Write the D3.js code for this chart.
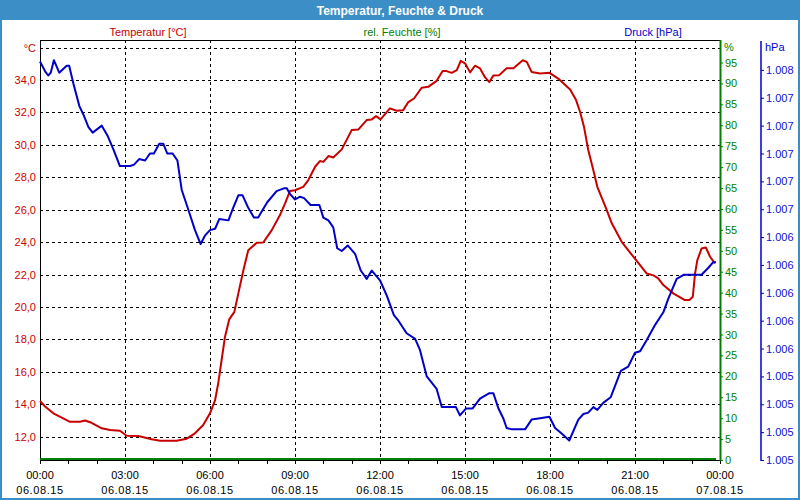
<!DOCTYPE html>
<html><head><meta charset="utf-8">
<script src="https://cdn.jsdelivr.net/npm/d3@7"></script>
<style>
body{margin:0;background:#fff;}
svg{display:block;font-family:"Liberation Sans",Arial,sans-serif;}
</style></head>
<body>
<svg id="chart" width="800" height="500"></svg>
<script>
// ---- data ----
const title = "Temperatur, Feuchte & Druck";
const seriesNames = ["Temperatur [°C]", "rel. Feuchte [%]", "Druck [hPa]"];

const tempHours = [0,0.18,0.47,0.77,1.06,1.41,1.59,1.82,2.18,2.47,2.82,3.06,3.47,3.94,4.24,4.82,5.18,5.47,5.76,6.0,6.18,6.29,6.41,6.53,6.68,6.86,7.0,7.18,7.35,7.65,7.88,8.18,8.47,8.65,8.82,9.0,9.29,9.47,9.71,9.88,10.0,10.18,10.35,10.65,11.0,11.24,11.53,11.71,11.86,12.02,12.35,12.59,12.82,13.0,13.2,13.47,13.7,14.0,14.21,14.35,14.53,14.71,14.85,15.0,15.18,15.35,15.53,15.71,15.86,16.0,16.21,16.47,16.71,17.04,17.18,17.35,17.65,17.98,18.29,18.71,18.92,19.06,19.2,19.35,19.53,19.67,19.98,20.18,20.53,20.94,21.41,21.65,21.82,22.0,22.35,22.76,22.92,23.04,23.12,23.2,23.35,23.5,23.65,23.82];
const tempValues = [14.2,13.86,13.44,13.17,12.92,12.92,13.0,12.86,12.52,12.41,12.37,12.06,12.04,11.84,11.75,11.75,11.88,12.21,12.72,13.44,14.26,15.29,16.73,18.17,19.24,19.7,20.84,22.28,23.5,23.96,23.98,24.74,25.67,26.39,27.15,27.2,27.41,27.83,28.65,29.0,28.95,29.31,29.22,29.72,30.91,30.95,31.53,31.57,31.77,31.57,32.25,32.1,32.14,32.64,32.86,33.52,33.58,33.95,34.55,34.55,34.44,34.61,35.18,35.03,34.47,34.88,34.71,34.16,33.87,34.28,34.3,34.73,34.73,35.22,35.12,34.5,34.4,34.44,34.09,33.42,32.76,32.04,31.11,29.68,28.44,27.41,26.08,25.16,24.02,23.1,22.07,21.95,21.77,21.35,20.84,20.43,20.43,20.63,22.07,22.89,23.61,23.67,23.1,22.69];

const pressHours = [0,0.18,0.29,0.38,0.49,0.68,0.94,1.03,1.18,1.39,1.53,1.71,1.86,2.18,2.38,2.59,2.82,3.18,3.32,3.5,3.71,3.88,4.02,4.21,4.35,4.49,4.68,4.85,5.0,5.23,5.47,5.67,5.82,6.0,6.18,6.33,6.65,6.8,7.0,7.15,7.35,7.55,7.7,8.02,8.35,8.61,8.71,8.82,9.0,9.18,9.32,9.55,9.86,10.0,10.18,10.35,10.49,10.65,10.86,11.12,11.32,11.53,11.71,12.0,12.24,12.49,12.65,12.94,13.24,13.41,13.65,14.0,14.18,14.68,14.82,15.04,15.27,15.53,15.86,16.0,16.18,16.35,16.47,16.65,16.88,17.12,17.35,17.65,17.98,18.18,18.41,18.68,19.0,19.18,19.35,19.53,19.67,19.88,20.14,20.5,20.76,21.0,21.18,21.41,21.71,22.0,22.18,22.47,22.73,22.94,23.35,23.59,23.76,23.86];
const pressValues = [1008.06,1007.99,1007.96,1007.98,1008.07,1007.98,1008.03,1008.03,1007.9,1007.74,1007.68,1007.59,1007.55,1007.6,1007.53,1007.43,1007.31,1007.31,1007.32,1007.36,1007.35,1007.4,1007.4,1007.47,1007.47,1007.4,1007.4,1007.35,1007.14,1007.0,1006.85,1006.75,1006.81,1006.85,1006.86,1006.93,1006.92,1007.0,1007.1,1007.1,1007.01,1006.94,1006.94,1007.05,1007.13,1007.15,1007.15,1007.11,1007.07,1007.09,1007.08,1007.03,1007.03,1006.94,1006.92,1006.87,1006.72,1006.7,1006.74,1006.68,1006.56,1006.5,1006.56,1006.49,1006.38,1006.24,1006.2,1006.11,1006.07,1005.99,1005.8,1005.71,1005.58,1005.58,1005.52,1005.57,1005.57,1005.64,1005.68,1005.68,1005.57,1005.5,1005.43,1005.42,1005.42,1005.42,1005.49,1005.5,1005.51,1005.43,1005.39,1005.34,1005.49,1005.53,1005.54,1005.58,1005.56,1005.61,1005.65,1005.84,1005.87,1005.97,1005.98,1006.06,1006.17,1006.26,1006.36,1006.5,1006.53,1006.53,1006.53,1006.58,1006.62,1006.62];

const humHours = [0, 23.86];
const humValues = [0, 0];

const hourTicks = d3.range(0, 25, 1);
const xLabelHours = [0, 3, 6, 9, 12, 15, 18, 21, 24];
const xLabelTimes = ["00:00","03:00","06:00","09:00","12:00","15:00","18:00","21:00","00:00"];
const xLabelDates = ["06.08.15","06.08.15","06.08.15","06.08.15","06.08.15","06.08.15","06.08.15","06.08.15","07.08.15"];

const tempTicks = [12,14,16,18,20,22,24,26,28,30,32,34,36];
const tempTickLabels = ["12,0","14,0","16,0","18,0","20,0","22,0","24,0","26,0","28,0","30,0","32,0","34,0","°C"];
const humTicks = [0,5,10,15,20,25,30,35,40,45,50,55,60,65,70,75,80,85,90,95];
const pressTicks = [1005.2,1005.4,1005.6,1005.8,1006.0,1006.2,1006.4,1006.6,1006.8,1007.0,1007.2,1007.4,1007.6,1007.8,1008.0];
const pressTickLabels = ["1.005","1.005","1.005","1.005","1.006","1.006","1.006","1.006","1.006","1.007","1.007","1.007","1.007","1.007","1.008"];

// ---- layout ----
const W = 800, H = 500;
const L = 40, R = 720, T = 40, B = 460;
const colT = "#c80000", colH = "#008000", colP = "#0000c8", frameBlue = "#3c8fc6";

const svg = d3.select("#chart");
svg.append("rect").attr("x",0).attr("y",0).attr("width",W).attr("height",H).attr("fill","#fff");
svg.append("rect").attr("x",0).attr("y",0).attr("width",W).attr("height",20).attr("fill",frameBlue);
svg.append("rect").attr("x",1).attr("y",1).attr("width",W-2).attr("height",H-2)
  .attr("fill","none").attr("stroke",frameBlue).attr("stroke-width",2);
svg.append("text").attr("x",W/2).attr("y",14.5).attr("text-anchor","middle")
  .attr("fill","#fff").attr("font-weight","bold").attr("font-size",12).text(title);

const x = d3.scaleLinear().domain([0,24]).range([L,R]);
const yT = d3.scaleLinear().domain([12,34]).range([436.7,80]);
const yH = d3.scaleLinear().domain([0,95]).range([B,62.5]);
const yP = d3.scaleLinear().domain([1005.2,1008.0]).range([B,69.9]);

// series labels
const labelX = [148, 402, 653];
const labelCols = [colT, colH, colP];
seriesNames.forEach((n,i)=>{
  svg.append("text").attr("x",labelX[i]).attr("y",36).attr("text-anchor","middle")
    .attr("font-size",11).attr("fill",labelCols[i]).text(n);
});

// grid
const grid = svg.append("g").attr("stroke","#000").attr("stroke-width",1).attr("stroke-dasharray","3,3").attr("shape-rendering","crispEdges");
tempTicks.forEach(t=>{
  grid.append("line").attr("x1",L).attr("x2",R).attr("y1",Math.round(yT(t))+0.5).attr("y2",Math.round(yT(t))+0.5);
});
xLabelHours.filter(h=>h>0 && h<24).forEach(h=>{
  grid.append("line").attr("x1",Math.round(x(h))+0.5).attr("x2",Math.round(x(h))+0.5).attr("y1",T).attr("y2",B);
});

// frame
const frame = svg.append("g").attr("stroke","#000").attr("shape-rendering","crispEdges");
frame.append("line").attr("x1",L).attr("x2",R).attr("y1",T+0.5).attr("y2",T+0.5);
frame.append("line").attr("x1",L+0.5).attr("x2",L+0.5).attr("y1",T).attr("y2",B);

// left axis (temperature)
const axL = svg.append("g").attr("transform",`translate(${L},0)`)
  .call(d3.axisLeft(yT).tickValues(tempTicks).tickSize(0).tickPadding(4)
    .tickFormat((d,i)=>tempTickLabels[i]));
axL.select(".domain").remove();
axL.selectAll("text").attr("fill","#d00000").attr("font-size",11).attr("font-family","Liberation Sans, Arial, sans-serif");

// bottom axis
const axB = svg.append("g").attr("transform",`translate(0,${B})`)
  .call(d3.axisBottom(x).tickValues(hourTicks).tickSize(4).tickFormat(""));
axB.select(".domain").attr("stroke","#000").attr("shape-rendering","crispEdges");
axB.selectAll("line").attr("shape-rendering","crispEdges");
xLabelHours.forEach((h,i)=>{
  const t = svg.append("text").attr("x",x(h)).attr("text-anchor","middle").attr("font-size",11).attr("fill","#000");
  t.append("tspan").attr("x",x(h)).attr("y",479).text(xLabelTimes[i]);
  t.append("tspan").attr("x",x(h)).attr("y",494).attr("letter-spacing","0.6").text(xLabelDates[i]);
});

// right axis humidity
const axH = svg.append("g").attr("transform",`translate(${R},0)`)
  .call(d3.axisRight(yH).tickValues(humTicks).tickSize(3).tickPadding(2));
axH.select(".domain").remove();
axH.append("line").attr("x1",0.5).attr("x2",0.5).attr("y1",T).attr("y2",B+1).attr("stroke",colH).attr("stroke-width",2);
axH.selectAll(".tick line").attr("stroke",colH);
axH.selectAll("text").attr("fill",colH).attr("font-size",11).attr("font-family","Liberation Sans, Arial, sans-serif");
svg.append("text").attr("x",724).attr("y",51).attr("font-size",11).attr("fill",colH).text("%");

// pressure axis
const PX = 761;
const axP = svg.append("g").attr("transform",`translate(${PX},0)`)
  .call(d3.axisRight(yP).tickValues(pressTicks).tickSize(3).tickPadding(2)
    .tickFormat((d,i)=>pressTickLabels[i]));
axP.select(".domain").remove();
axP.append("line").attr("x1",0).attr("x2",0).attr("y1",41).attr("y2",B+1).attr("stroke",colP).attr("stroke-width",1.5);
axP.selectAll(".tick line").attr("stroke",colP);
axP.selectAll("text").attr("fill","#1010d0").attr("font-size",11).attr("font-family","Liberation Sans, Arial, sans-serif");
svg.append("text").attr("x",765).attr("y",51).attr("font-size",11).attr("fill",colP).text("hPa");

// series
const lineT = d3.line().x((d,i)=>x(tempHours[i])).y(d=>yT(d));
const lineP = d3.line().x((d,i)=>x(pressHours[i])).y(d=>yP(d));
const lineH = d3.line().x((d,i)=>x(humHours[i])).y(d=>yH(d)-1);

svg.append("path").datum(humValues).attr("d",lineH).attr("fill","none").attr("stroke",colH).attr("stroke-width",2);
svg.append("path").datum(tempValues).attr("d",lineT).attr("fill","none").attr("stroke",colT).attr("stroke-width",2).attr("stroke-linejoin","round");
svg.append("path").datum(pressValues).attr("d",lineP).attr("fill","none").attr("stroke",colP).attr("stroke-width",2).attr("stroke-linejoin","round");
</script>
</body></html>
